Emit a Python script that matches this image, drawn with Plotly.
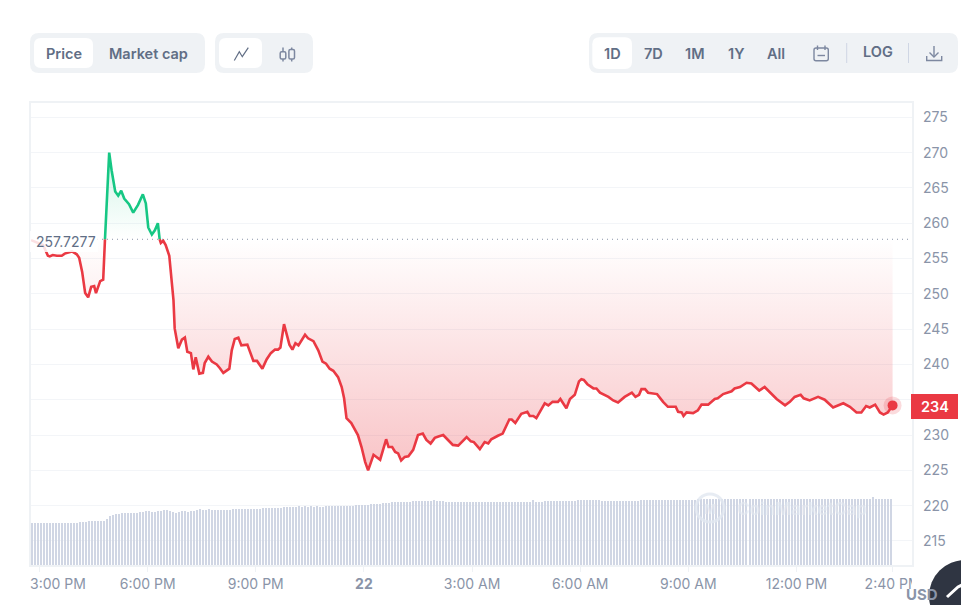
import plotly.graph_objects as go

W, H = 961, 605
PLOT_L, PLOT_R, PLOT_T, PLOT_B = 30.5, 911.5, 103, 565

# ---------- data ----------
baseline = 257.7277
last_price = 234

# minutes since 3:00 PM
minutes = [-14, 6, 14, 17, 22, 29, 37, 42, 54, 62, 66, 71, 76, 81, 86, 91, 94, 101, 106, 109,
           113, 116, 120, 126, 131, 136, 141, 149, 156, 164, 172, 177, 181, 187, 192, 197, 200,
           202, 206, 210, 216, 221, 223, 225, 231, 237, 242, 246, 252, 256, 260, 266, 272, 275,
           281, 287, 295, 300, 306, 316, 320, 325, 331, 336, 346, 356, 362, 371, 378, 385, 392,
           397, 401, 407, 416, 421, 426, 431, 442, 447, 456, 464, 471, 477, 483, 489, 497, 503,
           507, 511, 519, 530, 536, 542, 547, 556, 567, 577, 581, 587, 592, 597, 602, 608, 614,
           622, 630, 638, 644, 651, 658, 664, 672, 680, 688, 697, 705, 711, 718, 723, 733, 741,
           747, 752, 763, 771, 782, 786, 792, 802, 812, 816, 822, 827, 841, 847, 854, 863, 867,
           877, 883, 891, 898, 902, 906, 912, 922, 927, 933, 947, 955, 963, 974, 986, 992, 998,
           1002, 1008, 1013, 1028, 1038, 1046, 1059, 1063, 1069, 1072, 1077, 1088, 1096, 1102,
           1113, 1124, 1129, 1138, 1152, 1157, 1166, 1177, 1185, 1198, 1207, 1216, 1227, 1241,
           1249, 1257, 1267, 1272, 1282, 1296, 1307, 1321, 1338, 1349, 1360, 1368, 1376, 1382,
           1391, 1399, 1405, 1412, 1420]

price = [257.6, 256.9, 255.4, 255.3, 255.5, 255.4, 255.4, 255.7, 256.0, 255.6, 255.1, 253.1, 250.1,
         249.5, 251.0, 251.1, 250.1, 251.8, 252.0, 257.7277,
         266.1, 270.0, 267.5, 264.5, 263.9, 264.6, 263.5, 262.7, 261.5, 262.6, 264.1, 262.8, 259.4,
         258.4, 259.0, 260.0, 257.7277,
         257.2, 257.5, 256.9, 255.4, 250.5, 249.1, 245.1, 242.3, 243.5, 243.8, 241.8, 241.6, 239.3,
         241.0, 238.7, 238.8, 240.2, 241.1, 240.4, 240.0, 239.5, 238.8, 239.4, 242.0, 243.6, 243.8,
         242.7, 242.8, 240.5, 240.5, 239.4, 240.7, 241.6, 242.1, 242.1, 242.4, 245.7, 242.8, 242.1,
         243.0, 242.7, 244.2, 243.7, 243.3, 242.0, 240.4, 240.1, 239.4, 239.1, 238.2, 236.8, 235.2,
         232.4, 231.7, 230.0, 228.3, 226.2, 225.0, 227.2, 226.5, 229.4, 228.3, 228.3, 227.6, 227.4,
         226.4, 226.9, 227.0, 227.9, 230.0, 230.2, 229.3, 228.8, 229.6, 229.8, 230.0, 229.3, 228.6,
         228.5, 229.2, 229.7, 229.1, 229.0, 228.0, 229.0, 228.8, 229.4, 229.9, 230.2, 232.2, 232.2,
         231.7, 233.0, 233.3, 232.7, 232.7, 232.4, 234.5, 234.2, 234.7, 234.7, 235.1, 233.8, 235.1,
         235.7, 237.6, 237.9, 237.8, 237.2, 236.6, 236.6, 236.0, 235.4, 234.9, 234.6, 235.4, 236.0,
         235.4, 235.7, 236.5, 236.5, 236.0, 235.8, 234.7, 234.0, 234.0, 233.3, 233.2, 232.7, 233.2,
         233.1, 233.5, 234.3, 234.3, 235.1, 235.2, 235.8, 236.2, 236.6, 236.8, 237.4, 237.3, 236.3,
         236.8, 236.1, 235.1, 234.2, 234.7, 235.4, 235.7, 235.2, 234.9, 235.4, 235.0, 233.9, 234.5,
         234.0, 233.2, 233.2, 234.1, 233.9, 234.3, 233.2, 232.9, 233.2, 234.2]

# one volume bar every 5 minutes, in relative units
volume_minutes = list(range(-14, 1421, 5))
volume = ([9.1] * 16 + [9.3] * 3 + [9.5] * 6 + [10.0, 10.6, 10.8, 11.0, 11.0] + [11.3] * 6 +
          [11.5, 11.5, 11.7, 11.7, 11.5, 11.5, 11.7, 11.7, 11.9, 11.9, 11.7, 11.5, 11.3, 11.5,
           11.7, 11.7, 11.5, 11.7, 11.7, 11.9, 12.1, 11.9, 11.9, 12.1] +
          [11.9] * 7 + [12.1] * 10 + [12.3] * 7 + [12.6] * 5 +
          [12.8, 12.6, 12.8, 12.6, 12.8, 12.6, 12.8, 12.6, 12.6] +
          [12.8] * 10 + [13.0] * 5 + [13.2] * 4 + [13.4] * 3 + [13.6] * 7 + [13.9] * 7 + [14.1] +
          [13.9] * 3 + [13.6] * 29 + [14.1] + [13.6] * 3 + [13.9] * 11 + [14.1] * 8 + [13.9] * 13 +
          [14.1] * 19 + [14.2] * 12 + [14.3] * 46 + [14.7] + [14.3] * 7)

y_ticks = [215, 220, 225, 230, 235, 240, 245, 250, 255, 260, 265, 270, 275]
x_tick_minutes = [0, 180, 360, 540, 720, 900, 1080, 1260, 1420]
# the first label is nudged inside the plot in the reference, so it is placed apart
first_x_label = "3:00 PM"
x_tick_labels = ["", "6:00 PM", "9:00 PM", "<b>22</b>", "3:00 AM", "6:00 AM",
                 "9:00 AM", "12:00 PM", "2:40 PM"]

# ---------- style ----------
RED, GREEN = "#ea3943", "#16c784"
GRID = "#f3f5f8"
BORDER = "#eff2f5"
PILL = "#eff2f5"
TXT = "#616e85"
TICK = "#8a94a8"
FONT = "Inter, Roboto, sans-serif"


def px(x):
    return x / W


def py(y):
    return 1 - y / H


def rrect(x0, y0, x1, y1, r):
    return (f"M{px(x0 + r)},{py(y0)} L{px(x1 - r)},{py(y0)} Q{px(x1)},{py(y0)} {px(x1)},{py(y0 + r)} "
            f"L{px(x1)},{py(y1 - r)} Q{px(x1)},{py(y1)} {px(x1 - r)},{py(y1)} "
            f"L{px(x0 + r)},{py(y1)} Q{px(x0)},{py(y1)} {px(x0)},{py(y1 - r)} "
            f"L{px(x0)},{py(y0 + r)} Q{px(x0)},{py(y0)} {px(x0 + r)},{py(y0)} Z")


def poly(*pts):
    return "M" + " L".join(f"{px(a)},{py(b)}" for a, b in pts)


shapes, annos = [], []


def fill_shape(path, color):
    shapes.append(dict(type="path", xref="paper", yref="paper", path=path, fillcolor=color,
                       line=dict(width=0), layer="above"))


def stroke(path, color=TXT, width=1.4, opacity=1.0):
    shapes.append(dict(type="path", xref="paper", yref="paper", path=path, opacity=opacity,
                       line=dict(color=color, width=width), layer="above"))


def text(x, y, s, size=15, color=TXT, weight=600):
    annos.append(dict(xref="paper", yref="paper", x=px(x), y=py(y), text=s, showarrow=False,
                      xanchor="center", yanchor="middle",
                      font=dict(family=FONT, size=size, color=color, weight=weight)))


# toolbars
fill_shape(rrect(30, 33, 205, 73, 9), PILL)
fill_shape(rrect(34, 38, 93, 68, 7), "#ffffff")
text(63.5, 53, "Price", 14.5)
text(148.5, 53, "Market cap", 14.5)

fill_shape(rrect(215, 33, 313, 73, 9), PILL)
fill_shape(rrect(219, 38, 262, 68, 7), "#ffffff")
stroke(poly((234.3, 60.5), (239.3, 51.7), (242.3, 56.7), (248.3, 47.7)), width=1.2)
for cx, top, low in [(283, 51.7, 59), (291.7, 49.5, 59)]:
    stroke(rrect(cx - 2.8, top, cx + 2.8, low, 1.5), width=1.5, color="#7d88a0")
    stroke(poly((cx, 47.5), (cx, top)), width=1.5, color="#7d88a0")
    stroke(poly((cx, low), (cx, 61.5)), width=1.5, color="#7d88a0")

fill_shape(rrect(589, 33, 958, 73, 9), PILL)
fill_shape(rrect(592.3, 37.3, 632, 69, 7), "#ffffff")
for cx, label in [(612, "1D"), (653, "7D"), (695, "1M"), (736, "1Y"), (776, "All")]:
    text(cx, 53, label, 14.5)
text(877.7, 52, "LOG", 14.5)
stroke(poly((846.7, 43), (846.7, 63)), color="#cfd6e4", width=1)
stroke(poly((908.5, 43), (908.5, 63)), color="#cfd6e4", width=1)
# calendar icon
stroke(rrect(814, 48, 828.3, 60.7, 2), color="#7d88a0", width=1.4)
stroke(poly((817.5, 45.5), (817.5, 50)), color="#7d88a0", width=1.4)
stroke(poly((825, 45.5), (825, 50)), color="#7d88a0", width=1.4)
stroke(poly((817.5, 55.5), (825, 55.5)), color="#7d88a0", width=1.4)
# download icon
stroke(poly((934, 46), (934, 57)), color="#7d88a0", width=1.4)
stroke(poly((929.5, 52.5), (934, 57), (938.5, 52.5)), color="#7d88a0", width=1.4)
stroke(poly((926.7, 56), (926.7, 60.5), (941.7, 60.5), (941.7, 56)), color="#7d88a0", width=1.4)

# price tag on the right
shapes.append(dict(type="rect", xref="paper", yref="paper", x0=px(911), x1=px(958), y0=py(419),
                   y1=py(394), fillcolor=RED, line=dict(width=0), layer="above"))
text(934.5, 406, str(last_price), 14.5, "#ffffff")

# dotted open-price line
shapes.append(dict(type="line", xref="paper", yref="y", x0=px(97), x1=px(911), y0=baseline,
                   y1=baseline, line=dict(color="#8a94a8", width=1, dash="1px,4px"), layer="above"))

# open-price label, with a white veil over the line behind it
shapes.append(dict(type="rect", xref="paper", yref="paper", x0=px(30), x1=px(98), y0=py(252),
                   y1=py(231), fillcolor="rgba(255,255,255,0.85)", line=dict(width=0), layer="above"))
text(66, 241.5, "257.7277", 14, TXT, weight=400)

# first x label
text(58, 583, first_x_label, 14, TICK, weight=400)

# watermark
shapes.append(dict(type="circle", xref="paper", yref="paper", x0=px(696), x1=px(724), y0=py(522),
                   y1=py(494), line=dict(color="rgba(225,231,240,0.8)", width=3), layer="above"))
text(802, 509, "CoinMarketCap", 17, "rgba(228,233,241,0.6)", weight=700)
text(710, 509, "M", 13, "rgba(228,233,241,0.7)", weight=700)

# clip of the last x label, USD tag, floating button
shapes.append(dict(type="rect", xref="paper", yref="paper", x0=px(912), x1=px(961), y0=py(592),
                   y1=py(572), fillcolor="#ffffff", line=dict(width=0), layer="above"))
text(922, 594, "USD", 15, "#8a94a8", weight=700)
shapes.append(dict(type="circle", xref="paper", yref="paper", x0=px(929), x1=px(1001), y0=py(632),
                   y1=py(560), fillcolor="#2f3542", line=dict(width=0), layer="above"))
stroke(poly((947, 597), (958, 587), (962, 585)), color="#ffffff", width=3)

# ---------- traces ----------
fig = go.Figure()

i_up = minutes.index(109)
i_down = minutes.index(200)
red_scale = [[0, "rgba(234,57,67,0.30)"], [1, "rgba(234,57,67,0.0)"]]
green_scale = [[0, "rgba(22,199,132,0.0)"], [1, "rgba(22,199,132,0.20)"]]
segments = [
    (minutes[:i_up + 1], price[:i_up + 1], RED, red_scale, 225, baseline),
    (minutes[i_up:i_down + 1], price[i_up:i_down + 1], GREEN, green_scale, baseline, 270),
    (minutes[i_down:], price[i_down:], RED, red_scale, 225, baseline),
]

# the slight transparency makes plotly round bar edges instead of widening them to full pixels
fig.add_trace(go.Bar(x=volume_minutes, y=volume, width=3.329, yaxis="y2", xaxis="x",
                     marker=dict(color="rgba(207,214,228,0.99)", line=dict(width=0)), hoverinfo="skip"))

for xs, ys, col, scale, start, stop in segments:
    fig.add_trace(go.Scatter(x=xs, y=[baseline] * len(xs), mode="lines", line=dict(width=0),
                             hoverinfo="skip"))
    fig.add_trace(go.Scatter(x=xs, y=ys, mode="lines", fill="tonexty",
                             line=dict(color=col, width=2.6),
                             fillgradient=dict(type="vertical", colorscale=scale, start=start, stop=stop)))

fig.add_trace(go.Scatter(x=[minutes[-1]], y=[price[-1]], mode="markers",
                         marker=dict(size=18, color="rgba(234,57,67,0.18)", line=dict(width=0))))
fig.add_trace(go.Scatter(x=[minutes[-1]], y=[price[-1]], mode="markers",
                         marker=dict(size=10, color=RED, line=dict(width=0))))

fig.update_layout(
    width=W, height=H, margin=dict(l=0, r=0, t=0, b=0, autoexpand=False), autosize=False,
    paper_bgcolor="#ffffff", plot_bgcolor="#ffffff", showlegend=False,
    font=dict(family=FONT), shapes=shapes, annotations=annos, bargap=0,
    xaxis=dict(domain=[px(PLOT_L), px(PLOT_R)], range=[-15, 1451.5], tickmode="array",
               tickvals=x_tick_minutes, ticktext=x_tick_labels, showgrid=False, zeroline=False,
               ticks="outside", ticklen=5, tickcolor=BORDER, showline=True, linecolor=BORDER,
               linewidth=1.5, mirror=True, tickfont=dict(size=14, color=TICK, family=FONT),
               ticklabelstandoff=0, anchor="y"),
    yaxis=dict(domain=[py(PLOT_B), py(PLOT_T)], range=[211.59, 277.03], side="right", tickmode="array",
               tickvals=y_ticks, ticktext=[str(v) for v in y_ticks], gridcolor=GRID, gridwidth=1,
               zeroline=False, showline=True, linecolor=BORDER, linewidth=1.5, mirror=True,
               ticks="", tickfont=dict(size=14, color=TICK, family=FONT), ticklabelstandoff=7,
               anchor="x"),
    yaxis2=dict(domain=[py(PLOT_B), py(PLOT_T)], range=[0, 100], overlaying="y", visible=False,
                anchor="x", fixedrange=True),
)

fig.write_html("out.html", config={"displayModeBar": False},
               post_script="document.body.style.margin='0';document.body.style.overflow='hidden';")
